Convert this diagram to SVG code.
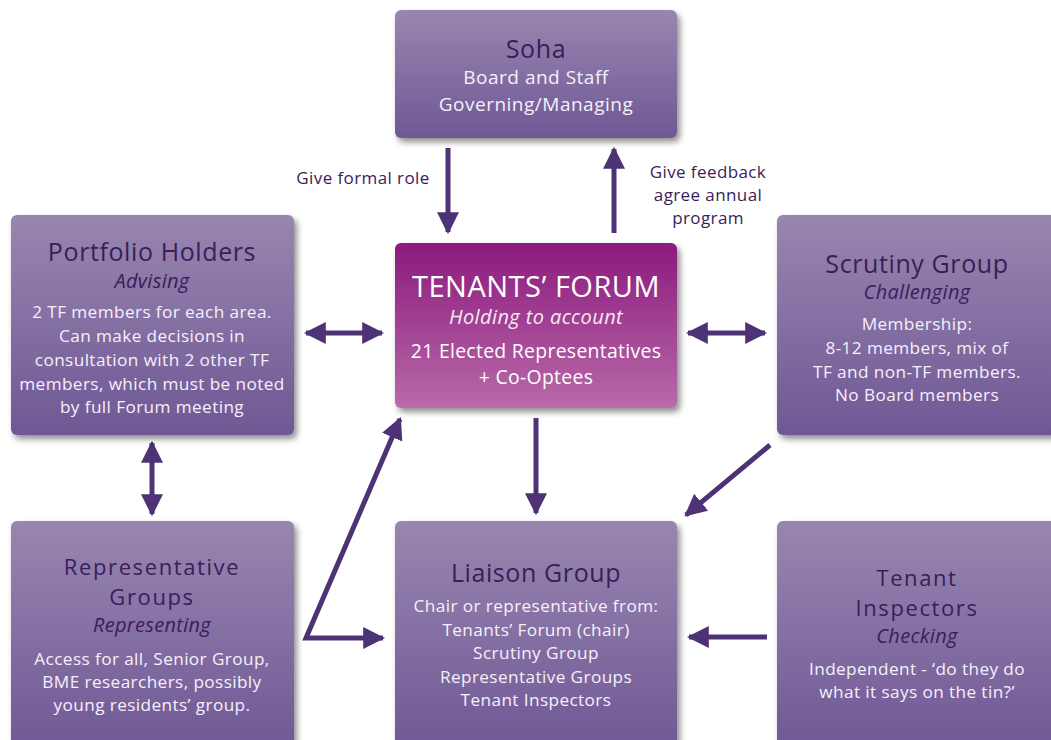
<svg xmlns="http://www.w3.org/2000/svg" width="1051" height="740" viewBox="0 0 1051 740">
  <defs>
    <linearGradient id="boxFill" x1="0" y1="0" x2="0" y2="1">
      <stop offset="0" stop-color="#9886b0"/>
      <stop offset="1" stop-color="#6f5895"/>
    </linearGradient>
    <linearGradient id="forumFill" x1="0" y1="0" x2="0" y2="1">
      <stop offset="0" stop-color="#8c1a7d"/>
      <stop offset="1" stop-color="#b86aaa"/>
    </linearGradient>
    <filter id="shadow" x="-10%" y="-10%" width="125%" height="125%">
      <feGaussianBlur in="SourceAlpha" stdDeviation="3"/>
      <feOffset dx="3" dy="4" result="b"/>
      <feComponentTransfer><feFuncA type="linear" slope="0.45"/></feComponentTransfer>
      <feMerge><feMergeNode/><feMergeNode in="SourceGraphic"/></feMerge>
    </filter>
    <marker id="head" viewBox="0 0 10 10" refX="9" refY="5" markerWidth="4.4" markerHeight="4.4" orient="auto-start-reverse" markerUnits="strokeWidth">
      <path d="M0,0 L10,5 L0,10 Z" fill="#4d3276"/>
    </marker>
    <style>
      .box { fill: url(#boxFill); filter: url(#shadow); }
      .forum { fill: url(#forumFill); filter: url(#shadow); }
      text { font-family: "Open Sans", "Noto Sans", sans-serif; text-anchor: middle; }
      .title { fill: #3a1d5a; font-size: 25px; font-weight: 500; letter-spacing: 0.6px; }
      .title2 { fill: #3a1d5a; font-size: 22px; font-weight: 500; letter-spacing: 1.6px; }
      .sub { fill: #3a1d5a; font-size: 20px; font-style: italic; letter-spacing: 0.3px; }
      .body { fill: #f6f0fa; font-size: 17.2px; letter-spacing: 0.4px; }
      .sbody { fill: #f6f0fa; font-size: 19px; letter-spacing: 0.5px; }
      .lbl { fill: #3a1d5a; font-size: 17px; font-weight: 500; letter-spacing: 0.4px; }
      .ftitle { fill: #ffffff; font-size: 29px; font-weight: 500; letter-spacing: 0.5px; }
      .fsub { fill: #f6eaf4; font-size: 20px; font-style: italic; letter-spacing: 0.4px; }
      .fbody { fill: #ffffff; font-size: 19.4px; letter-spacing: 0.3px; }
      .conn { stroke: #4d3276; stroke-width: 5; fill: none; }
    </style>
  </defs>
  <rect width="1051" height="740" fill="#ffffff"/>

  <!-- connectors -->
  <g id="connectors">
    <line class="conn" x1="448" y1="148" x2="448" y2="232" marker-end="url(#head)"/>
    <line class="conn" x1="614" y1="233" x2="614" y2="149" marker-end="url(#head)"/>
    <line class="conn" x1="306" y1="333" x2="382" y2="333" marker-start="url(#head)" marker-end="url(#head)"/>
    <line class="conn" x1="688" y1="333" x2="765" y2="333" marker-start="url(#head)" marker-end="url(#head)"/>
    <line class="conn" x1="152" y1="443" x2="152" y2="514" marker-start="url(#head)" marker-end="url(#head)"/>
    <line class="conn" x1="536" y1="418" x2="536" y2="513" marker-end="url(#head)"/>
    <line class="conn" x1="770" y1="445" x2="686" y2="515" marker-end="url(#head)"/>
    <polyline class="conn" points="400,419 306,638 383,638" marker-start="url(#head)" marker-end="url(#head)"/>
    <line class="conn" x1="767" y1="637" x2="689" y2="637" marker-end="url(#head)"/>
    <text class="lbl" x="363" y="184">Give formal role</text>
    <text class="lbl" x="708" y="178">Give feedback</text>
    <text class="lbl" x="708" y="201">agree annual</text>
    <text class="lbl" x="708" y="224">program</text>
  </g>

  <g id="soha">
    <rect class="box" x="395" y="10" width="282" height="128" rx="6"/>
    <text class="title" x="536" y="58">Soha</text>
    <text class="sbody" x="536" y="84">Board and Staff</text>
    <text class="sbody" x="536" y="111">Governing/Managing</text>
  </g>

  <g id="tenants-forum">
    <rect class="forum" x="395" y="243" width="282" height="165" rx="6"/>
    <text class="ftitle" x="536" y="297">TENANTS’ FORUM</text>
    <text class="fsub" x="536" y="324">Holding to account</text>
    <text class="fbody" x="536" y="358">21 Elected Representatives</text>
    <text class="fbody" x="536" y="384">+ Co-Optees</text>
  </g>

  <g id="portfolio-holders">
    <rect class="box" x="11" y="215" width="283" height="220" rx="6"/>
    <text class="title" x="152" y="261">Portfolio Holders</text>
    <text class="sub" x="152" y="288">Advising</text>
    <text class="body" x="152" y="318">2 TF members for each area.</text>
    <text class="body" x="152" y="342">Can make decisions in</text>
    <text class="body" x="152" y="366">consultation with 2 other TF</text>
    <text class="body" x="152" y="390">members, which must be noted</text>
    <text class="body" x="152" y="413">by full Forum meeting</text>
  </g>

  <g id="scrutiny-group">
    <rect class="box" x="777" y="215" width="290" height="220" rx="6"/>
    <text class="title" x="917" y="273">Scrutiny Group</text>
    <text class="sub" x="917" y="299">Challenging</text>
    <text class="body" x="917" y="330">Membership:</text>
    <text class="body" x="917" y="354">8-12 members, mix of</text>
    <text class="body" x="917" y="378">TF and non-TF members.</text>
    <text class="body" x="917" y="401">No Board members</text>
  </g>

  <g id="representative-groups">
    <rect class="box" x="11" y="521" width="283" height="230" rx="6"/>
    <text class="title2" x="152" y="575">Representative</text>
    <text class="title2" x="152" y="605">Groups</text>
    <text class="sub" x="152" y="632">Representing</text>
    <text class="body" x="152" y="665">Access for all, Senior Group,</text>
    <text class="body" x="152" y="688">BME researchers, possibly</text>
    <text class="body" x="152" y="711">young residents’ group.</text>
  </g>

  <g id="liaison-group">
    <rect class="box" x="395" y="521" width="282" height="230" rx="6"/>
    <text class="title" x="536" y="582">Liaison Group</text>
    <text class="body" x="536" y="612">Chair or representative from:</text>
    <text class="body" x="536" y="636">Tenants’ Forum (chair)</text>
    <text class="body" x="536" y="659">Scrutiny Group</text>
    <text class="body" x="536" y="683">Representative Groups</text>
    <text class="body" x="536" y="706">Tenant Inspectors</text>
  </g>

  <g id="tenant-inspectors">
    <rect class="box" x="777" y="521" width="290" height="230" rx="6"/>
    <text class="title2" x="917" y="586">Tenant</text>
    <text class="title2" x="917" y="616">Inspectors</text>
    <text class="sub" x="917" y="643">Checking</text>
    <text class="body" x="917" y="675">Independent - ‘do they do</text>
    <text class="body" x="917" y="698">what it says on the tin?’</text>
  </g>
</svg>
